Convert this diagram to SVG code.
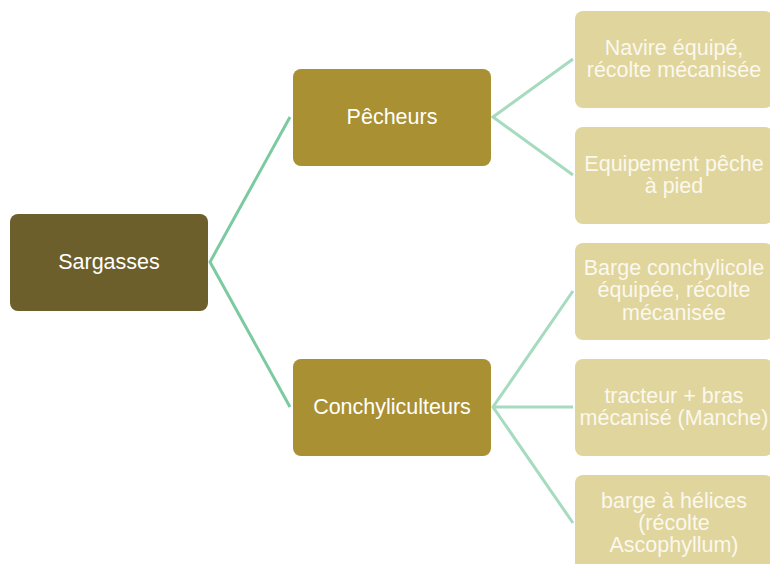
<svg xmlns="http://www.w3.org/2000/svg" width="770" height="564" viewBox="0 0 770 564">
<style>
text{font-family:"Liberation Sans",Arial,sans-serif;font-size:21.5px;fill:#ffffff;text-anchor:middle}
.root{fill:#6c5f2b}
.mid{fill:#a89033}
.leaf{fill:#e0d59c}
.lt{fill:#fbf8ee}
.c1{stroke:#7ccaa0;stroke-width:3;fill:none}
.c2{stroke:#a6dbbf;stroke-width:3;fill:none}
</style>
<g id="connectors">
<polyline class="c1" points="290,117 210,262 290,407"/>
<polyline class="c2" points="573,59 493,117 573,175"/>
<polyline class="c2" points="573,291 493,407 573,523"/>
<line class="c2" x1="493" y1="407" x2="573" y2="407"/>
</g>
<g id="sargasses"><rect class="root" x="10" y="214" width="198" height="97" rx="8"/><text x="109" y="269">Sargasses</text></g>
<g id="pecheurs"><rect class="mid" x="293" y="69" width="198" height="97" rx="8"/><text x="392" y="124">Pêcheurs</text></g>
<g id="conchyliculteurs"><rect class="mid" x="293" y="359" width="198" height="97" rx="8"/><text x="392" y="414">Conchyliculteurs</text></g>
<g id="navire"><rect class="leaf" x="575" y="11" width="198" height="97" rx="8"/><text class="lt" x="674" y="55">Navire équipé,</text><text class="lt" x="674" y="77">récolte mécanisée</text></g>
<g id="equipement"><rect class="leaf" x="575" y="127" width="198" height="97" rx="8"/><text class="lt" x="674" y="171">Equipement pêche</text><text class="lt" x="674" y="193">à pied</text></g>
<g id="barge-conch"><rect class="leaf" x="575" y="243" width="198" height="97" rx="8"/><text class="lt" x="674" y="275">Barge conchylicole</text><text class="lt" x="674" y="297">équipée, récolte</text><text class="lt" x="674" y="320">mécanisée</text></g>
<g id="tracteur"><rect class="leaf" x="575" y="359" width="198" height="97" rx="8"/><text class="lt" x="674" y="403">tracteur + bras</text><text class="lt" x="674" y="425">mécanisé (Manche)</text></g>
<g id="barge-helices"><rect class="leaf" x="575" y="475" width="198" height="97" rx="8"/><text class="lt" x="674" y="508">barge à hélices</text><text class="lt" x="674" y="530">(récolte</text><text class="lt" x="674" y="552">Ascophyllum)</text></g>
</svg>
